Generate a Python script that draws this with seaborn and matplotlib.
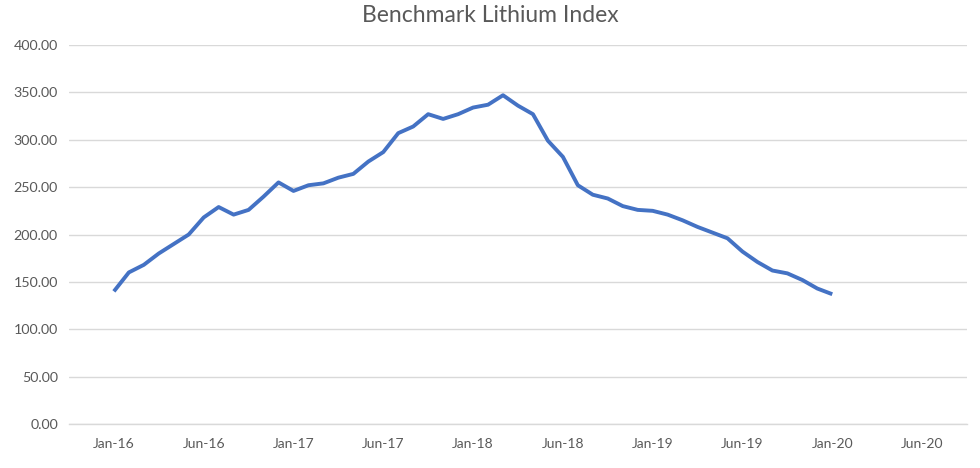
import numpy as np
import pandas as pd
import seaborn as sns
from matplotlib import pyplot as plt

# Monatswerte Jan-16 bis Jan-20
monate = pd.date_range('2016-01-01', '2020-01-01', freq='MS')
index_werte = [
    140, 160, 168, 180, 190, 200, 218, 229, 221, 226,
    240, 255, 246, 252, 254, 260, 264, 277, 287, 307,
    314, 327, 322, 327, 334, 337, 347, 336, 327, 299,
    282, 252, 242, 238, 230, 226, 225, 221, 215, 208,
    202, 196, 182, 171, 162, 159, 152, 143, 137,
]
x_labels = ['Jan-16', 'Jun-16', 'Jan-17', 'Jun-17', 'Jan-18',
            'Jun-18', 'Jan-19', 'Jun-19', 'Jan-20', 'Jun-20']

df = pd.DataFrame({'monat': np.arange(len(monate)), 'wert': index_werte})

sns.set_style('white')
plt.rcParams['font.family'] = ['Lato', 'DejaVu Sans']

fig = plt.figure(figsize=(9.8, 4.68), dpi=100)
ax = fig.add_axes([0.0704, 0.094, 0.9163, 0.8098])

sns.lineplot(data=df, x='monat', y='wert', ax=ax, color='#4472C4',
             linewidth=2.8, solid_capstyle='butt', solid_joinstyle='round')

ax.set_xlim(-3, 57)
ax.set_ylim(0, 400)
ax.set_yticks(range(0, 401, 50))
ax.set_yticklabels([f'{v:.2f}' for v in range(0, 401, 50)])
ax.yaxis.grid(True, color='#D9D9D9', linewidth=1)
ax.set_axisbelow(True)

# Beschriftung in der Mitte, Striche dazwischen
ax.set_xticks(range(0, 60, 6))
ax.set_xticklabels(x_labels)
ax.set_xticks(range(-3, 58, 6), minor=True)
ax.tick_params(axis='x', which='major', length=0, pad=10,
               labelsize=10, labelcolor='#595959')
ax.tick_params(axis='x', which='minor', length=5, width=1,
               color='#D9D9D9', direction='out')
ax.tick_params(axis='y', length=0, pad=8, labelsize=10.3,
               labelcolor='#595959')

for s in ['top', 'right', 'left']:
    ax.spines[s].set_visible(False)
ax.spines['bottom'].set_color('#D9D9D9')
ax.spines['bottom'].set_linewidth(1)

ax.set_xlabel('')
ax.set_ylabel('')
fig.text(0.5, 0.967, 'Benchmark Lithium Index', ha='center', va='center',
         fontsize=16.5, color='#595959')

plt.savefig('out.png', dpi=100)
